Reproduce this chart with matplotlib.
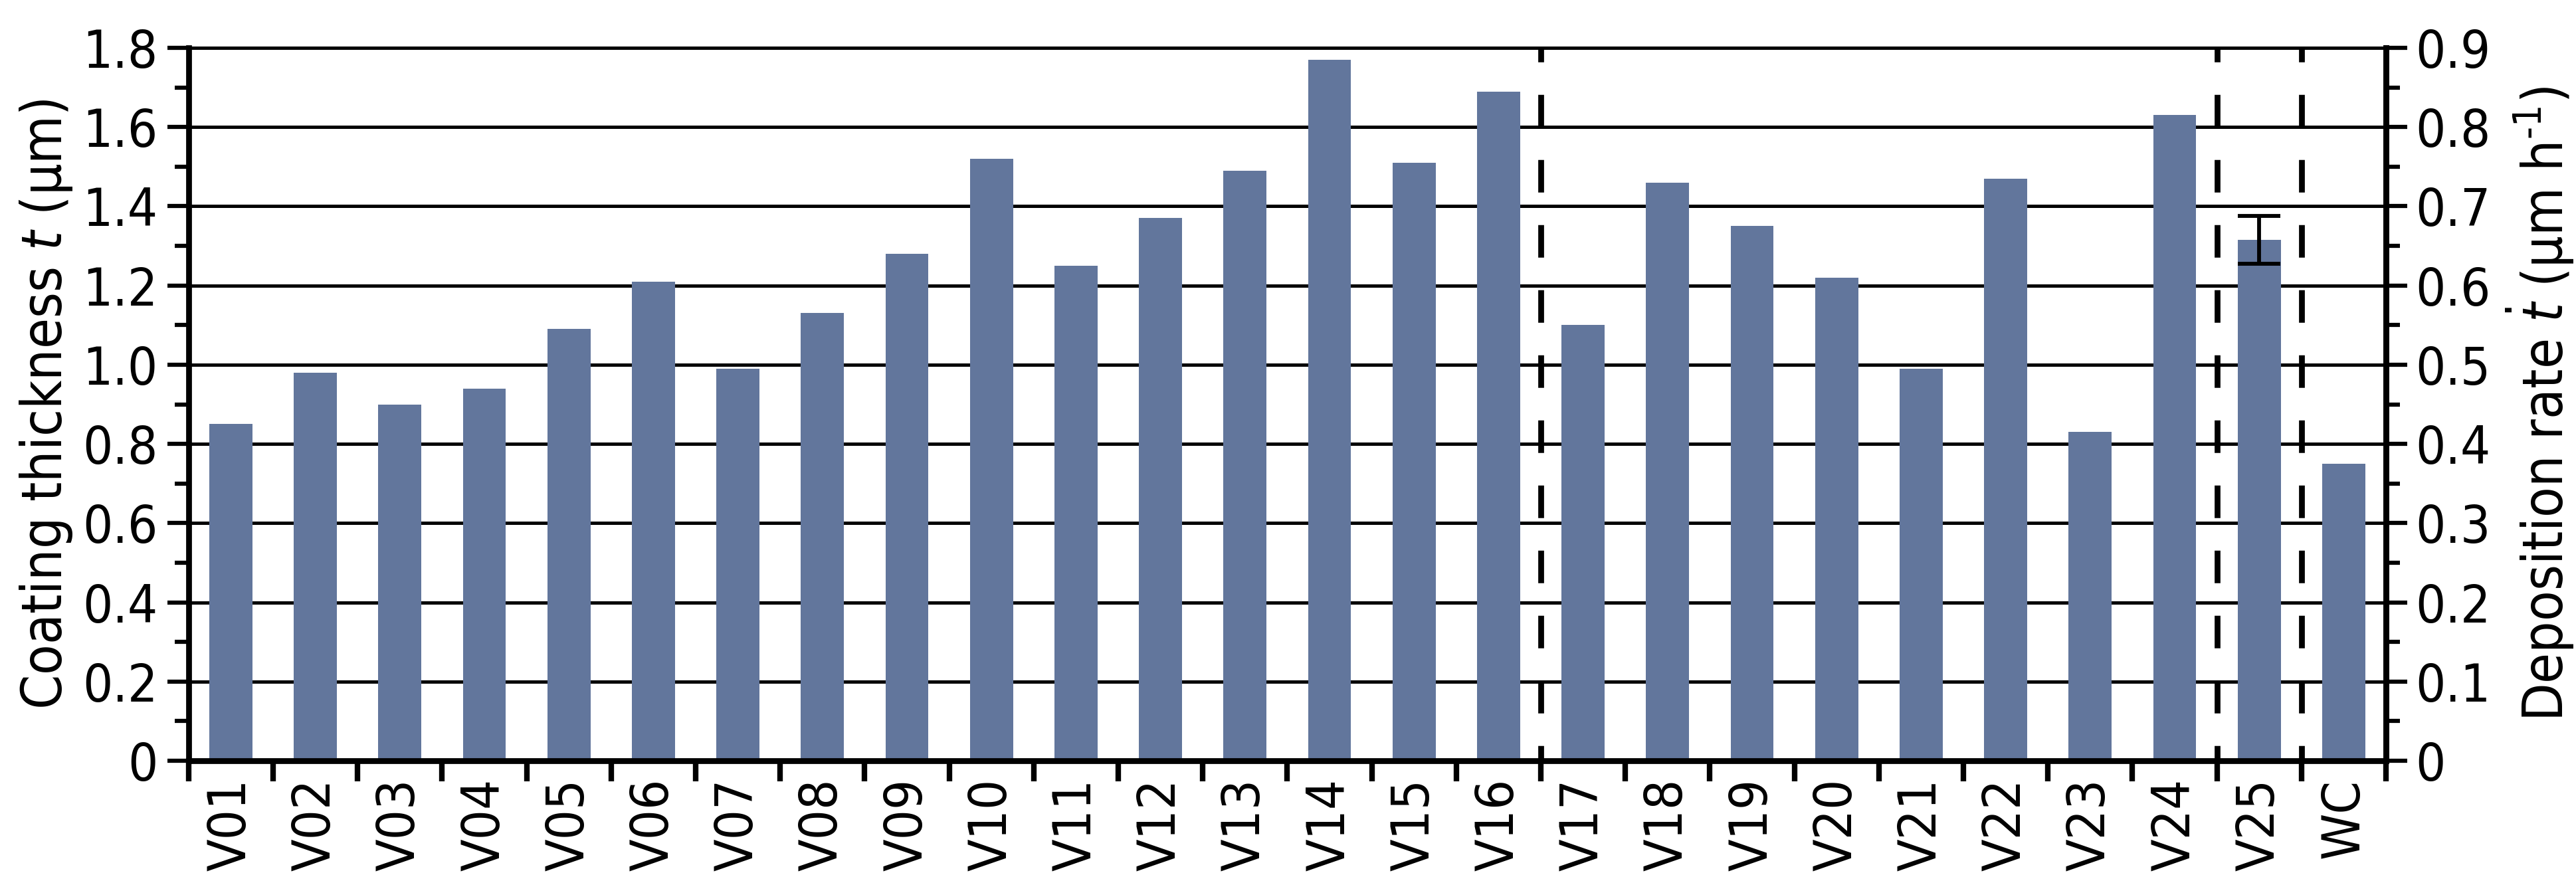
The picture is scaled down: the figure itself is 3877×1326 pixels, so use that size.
import numpy as np
import matplotlib
matplotlib.use("Agg")
import matplotlib.pyplot as plt
from matplotlib.ticker import MultipleLocator, FixedLocator, FuncFormatter

# sample names and measured coating thickness (um)
samples = ['V01', 'V02', 'V03', 'V04', 'V05', 'V06', 'V07', 'V08', 'V09', 'V10',
           'V11', 'V12', 'V13', 'V14', 'V15', 'V16', 'V17', 'V18', 'V19', 'V20',
           'V21', 'V22', 'V23', 'V24', 'V25', 'WC']
thickness = [0.85, 0.98, 0.90, 0.94, 1.09, 1.21, 0.99, 1.13, 1.28, 1.52,
             1.25, 1.37, 1.49, 1.77, 1.51, 1.69, 1.10, 1.46, 1.35, 1.22,
             0.99, 1.47, 0.83, 1.63, 1.315, 0.75]
# only V25 has an error bar
err_sample = 'V25'
err_value = 0.06
# group separators (between samples)
separators = [15.5, 23.5, 24.5]

plt.rcParams['font.family'] = ['DejaVu Sans']
plt.rcParams['font.stretch'] = 'condensed'
plt.rcParams['mathtext.fontset'] = 'custom'
plt.rcParams['mathtext.rm'] = 'DejaVu Sans:stretch=condensed'
plt.rcParams['mathtext.it'] = 'DejaVu Sans:italic:stretch=condensed'
fs = 19
fs_label = 20

fig = plt.figure(figsize=(3878 / 300, 1326 / 300), dpi=300)
ax = fig.add_axes([0.0732, 0.1365, 0.8528, 0.8092])

x = np.arange(len(samples))
bar_color = '#62769c'
ax.bar(x, thickness, width=0.51, color=bar_color, zorder=2)

i = samples.index(err_sample)
ax.errorbar(x[i], thickness[i], yerr=err_value, fmt='none', ecolor='black',
            elinewidth=1.4, capsize=7.7, capthick=1.4, zorder=4)

for s in separators:
    ax.axvline(s, color='black', lw=2.1, linestyle=(3.0, (5.6, 5.6)), zorder=3)

ax.set_xlim(-0.5, len(samples) - 0.5)
ax.set_ylim(0, 1.8)

# x: ticks at the boundaries, labels at the centres
ax.xaxis.set_major_locator(FixedLocator(np.arange(-0.5, len(samples), 1.0)))
ax.xaxis.set_major_formatter(FuncFormatter(lambda v, p: ''))
ax.set_xticks(x, samples, minor=True, rotation=90, fontsize=fs)
ax.tick_params(axis='x', which='major', length=7.5, width=2.0, direction='out')
ax.tick_params(axis='x', which='minor', length=0, pad=6.5)

fmt = FuncFormatter(lambda v, p: '0' if abs(v) < 1e-9 else f'{v:.1f}')
ax.yaxis.set_major_locator(MultipleLocator(0.2))
ax.yaxis.set_minor_locator(MultipleLocator(0.1))
ax.yaxis.set_major_formatter(fmt)
ax.tick_params(axis='y', which='major', length=7.6, width=1.5, labelsize=fs, pad=3.5)
ax.tick_params(axis='y', which='minor', length=5.0, width=1.5)
ax.yaxis.grid(True, which='major', color='black', lw=1.2, zorder=0)
ax.set_axisbelow(True)

for side in ['left', 'bottom', 'right']:
    ax.spines[side].set_linewidth(2.1)
ax.spines['top'].set_linewidth(1.2)

ax.set_ylabel('Coating thickness $t$ (µm)', fontsize=fs_label, labelpad=3)

# deposition rate axis (2 h deposition)
ax2 = ax.twinx()
ax2.set_ylim(0, 0.9)
ax2.yaxis.set_major_locator(MultipleLocator(0.1))
ax2.yaxis.set_minor_locator(MultipleLocator(0.05))
ax2.yaxis.set_major_formatter(fmt)
ax2.tick_params(axis='y', which='major', length=7.6, width=1.5, labelsize=fs, pad=3)
ax2.tick_params(axis='y', which='minor', length=5.0, width=1.5)
for side in ['left', 'bottom', 'top']:
    ax2.spines[side].set_visible(False)
ax2.spines['right'].set_linewidth(2.1)
ax2.set_ylabel('Deposition rate $\\dot{t}$ (µm h$^{\\mathregular{\u20101}}$)',
               fontsize=fs_label, labelpad=5)

fig.savefig('out.png', dpi=300)
